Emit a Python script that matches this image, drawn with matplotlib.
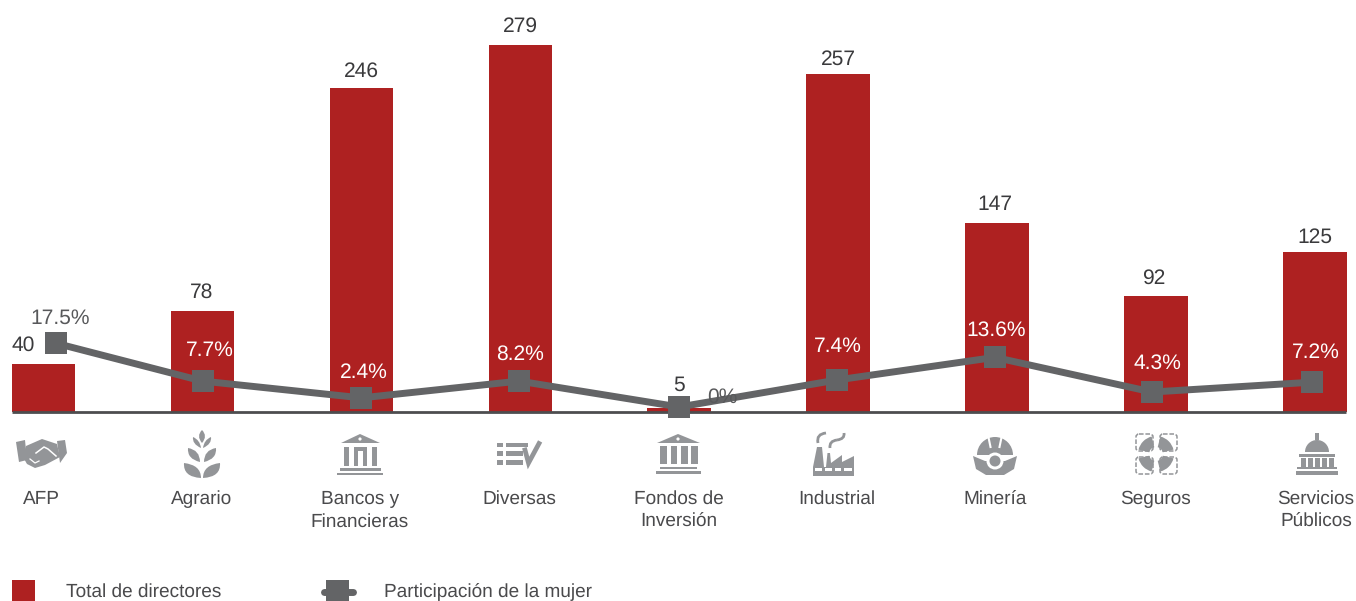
import matplotlib
matplotlib.use('Agg')
import matplotlib.pyplot as plt
from matplotlib.patches import Rectangle, Polygon, Circle, Wedge, PathPatch, FancyBboxPatch
from matplotlib.path import Path

plt.rcParams['font.family'] = ['Liberation Sans', 'DejaVu Sans']
plt.rcParams['text.hinting'] = 'none'
plt.rcParams['text.hinting_factor'] = 1

categories = ['AFP', 'Agrario', 'Bancos y\nFinancieras', 'Diversas', 'Fondos de\nInversión',
              'Industrial', 'Minería', 'Seguros', 'Servicios\nPúblicos']
total_labels = ['40', '78', '246', '279', '5', '257', '147', '92', '125']
pct_labels = ['17.5%', '7.7%', '2.4%', '8.2%', '0%', '7.4%', '13.6%', '4.3%', '7.2%']
# the bars in the picture are not quite to scale, heights are as read off it
bar_heights = [36.5, 77, 246, 279, 3, 257, 143.6, 88, 121.6]
line_heights = [17.5, 7.1, 2.5, 7.1, 0, 7.4, 13.6, 4.1, 6.8]
line_shift = [0.075, 0, 0, -0.008, 0, -0.007, -0.013, -0.025, -0.018]

total_xy = [(23, 345), (202, 292), (361, 71), (520, 26), (679, 385), (838, 59), (995, 205), (1154, 278), (1315, 237)]
pct_xy = [(60, 318), (210, 350), (364, 372), (520, 354), (722, 397), (838, 346), (996, 330), (1157, 363), (1316, 352)]
pct_colors = ['#58595b', 'white', 'white', 'white', '#58595b', 'white', 'white', 'white', 'white']
cat_x = [41, 202, 360, 519, 679, 837, 995, 1156, 1316]
cat_y = [490, 490, 490, 490, 490, 490, 491, 490, 490]

RED = '#ae2121'
LINE = '#636466'
ICON = '#939598'
TEXT = '#4a4a4c'

fig = plt.figure(figsize=(13.56, 6.01), dpi=100)
ax = fig.add_axes([0, 0, 1, 1])
x = list(range(len(categories)))
step = 158.9
ax.set_xlim(-43.6 / step, (1356 - 43.6) / step)
ax.set_ylim(-(601 - 412) / 1.316, 412 / 1.316)
ax.axis('off')
ax.bar(x, bar_heights, width=0.4, color=RED, zorder=2, label='Total de directores')
ax.hlines(0, (12 - 43.6) / step, (1346 - 43.6) / step, color='#4d4d4f', lw=2, zorder=3)

# second scale for the line, zero sits a little above the baseline
ax2 = ax.twinx()
ax2.set_ylim(-(601 - 407) / 3.65, 407 / 3.65)
ax2.axis('off')
line_x = [a + b for a, b in zip(x, line_shift)]
ax2.plot(line_x, line_heights, color=LINE, lw=5, marker='s', ms=15.2, mew=0, zorder=4)

# pixel overlay for text, icons and legend
pix = fig.add_axes([0, 0, 1, 1])
pix.set_xlim(0, 1356)
pix.set_ylim(601, 0)
pix.axis('off')
pix.patch.set_alpha(0)

for (tx, ty), s in zip(total_xy, total_labels):
    pix.text(tx, ty, s, ha='center', va='center', fontsize=15, color='#3a3a3c', zorder=6)
for (tx, ty), s, c in zip(pct_xy, pct_labels, pct_colors):
    pix.text(tx, ty, s, ha='center', va='center', fontsize=15, color=c, zorder=6)
for cx, cy, s in zip(cat_x, cat_y, categories):
    pix.text(cx, cy, s, ha='center', va='top', fontsize=13.4, color=TEXT, linespacing=1.42)


def rect(x0, y0, x1, y1, c=ICON):
    pix.add_patch(Rectangle((x0, y0), x1 - x0, y1 - y0, color=c, lw=0))


def poly(pts, c=ICON):
    pix.add_patch(Polygon(pts, closed=True, color=c, lw=0))


def leaf(p0, p1, c0, c1):
    path = Path([p0, c0, p1, c1, p0], [Path.MOVETO, Path.CURVE3, Path.CURVE3, Path.CURVE3, Path.CURVE3])
    pix.add_patch(PathPatch(path, color=ICON, lw=0))


def curl(p0, c0, p1, lw=2):
    path = Path([p0, c0, p1], [Path.MOVETO, Path.CURVE3, Path.CURVE3])
    pix.add_patch(PathPatch(path, fc='none', ec=ICON, lw=lw))


# handshake
poly([(16, 442), (25, 440), (27, 460), (19, 462)])
poly([(57, 441), (65, 440), (67, 453), (60, 463)])
poly([(26, 446), (42, 439), (57, 444), (60, 457), (45, 465), (35, 468), (27, 464), (23, 457)])
pix.plot([36, 44, 48, 56], [453, 447, 449, 456], color='white', lw=1.1)
pix.plot([30, 35, 39], [459, 463, 461], color='white', lw=0.9)

# wheat
leaf((202, 430), (202, 443), (208, 436), (196, 436))
for m in (1, -1):
    leaf((202 - m * 9, 437), (202 - m * 1, 448), (202 - m * 10, 444), (202 - m * 2, 440))
    leaf((202 - m * 14, 448), (202 - m * 2, 462), (202 - m * 15, 459), (202 - m * 2, 450))
    leaf((202 - m * 18, 463), (202 - m * 1, 478), (202 - m * 19, 477), (202 - m * 1, 465))

# bank
poly([(341, 443), (360, 434), (380, 443)])
pix.add_patch(Circle((360, 439), 1.6, color='white', lw=0))
rect(344, 447, 349, 466)
rect(372, 447, 377, 466)
rect(354, 447, 367, 451)
rect(354, 451, 358, 466)
rect(363, 451, 367, 466)
rect(340, 468, 381, 471)
rect(337, 473, 383, 474.5)

# list with a check
for y0, y1, x1 in [(443, 447, 528), (451, 456, 523), (460, 465, 523)]:
    rect(497, y0, 503, y1)
    rect(506, y0, x1, y1)
pix.plot([525, 528.5, 539], [450, 463, 443.5], color=ICON, lw=3.4, solid_joinstyle='miter')

# fund, same temple with four columns
poly([(657, 443), (678, 434), (700, 443)])
pix.add_patch(Circle((678, 439), 1.6, color='white', lw=0))
for c0 in (660, 670.5, 681, 691):
    rect(c0, 446, c0 + 6.5, 464)
rect(660, 467, 697, 469)
rect(656, 471, 701, 473.5)

# factory
poly([(813, 467), (817, 447), (822, 447), (824, 467)])
poly([(826, 467), (827.5, 453), (830, 453), (831, 463), (842, 455), (842, 462), (854, 456), (854, 467)])
rect(813, 467, 854, 476)
for w0, w1 in [(815, 822), (825, 832), (835, 841), (844, 852)]:
    rect(w0, 468, w1, 471, 'white')
curl((818, 443), (816, 434), (826, 433))
curl((830, 448), (829, 441), (837, 440))
curl((837, 440), (845, 439), (844, 433))

# mining helmet
pix.add_patch(Wedge((995, 455), 18, 180, 360, color=ICON, lw=0))
pix.plot([988, 990.5], [435, 447], color='white', lw=1.5)
pix.plot([1002, 999.5], [435, 447], color='white', lw=1.5)
poly([(973, 456), (985, 461), (1005, 461), (1017, 456), (1014, 469), (1004, 475), (986, 475), (976, 469)])
pix.add_patch(Circle((995, 461), 8.5, color='white', lw=0))
pix.add_patch(Circle((995, 461), 5.5, color=ICON, lw=0))

# insurance
for x0, y0 in [(1136, 434), (1160, 434), (1136, 457), (1160, 457)]:
    pix.add_patch(FancyBboxPatch((x0 + 2, y0 + 2), 13, 13, boxstyle='round,pad=2,rounding_size=3',
                                 fc='none', ec=ICON, lw=1.1, ls=(0, (3, 1.2))))
for t0 in (0, 90, 180, 270):
    pix.add_patch(Wedge((1156, 454), 18, t0 + 14, t0 + 76, width=11, color=ICON, lw=0))

# capitol
rect(1315, 433, 1319, 440)
pix.add_patch(Wedge((1317, 452), 12, 180, 360, color=ICON, lw=0))
rect(1299, 454, 1335, 457)
for c0 in (1301, 1308, 1315, 1322, 1329):
    rect(c0, 458, c0 + 5, 467)
rect(1297, 467, 1337, 469)
rect(1296, 471, 1338, 474.5)

# legend
rect(12, 580, 35, 601, RED)
pix.text(66, 592, 'Total de directores', va='center', fontsize=13.4, color=TEXT)
pix.plot([324, 353], [592, 592], color=LINE, lw=5, solid_capstyle='round')
rect(326, 580, 349, 601, LINE)
pix.text(384, 592, 'Participación de la mujer', va='center', fontsize=13.4, color=TEXT)

fig.savefig('out.png', dpi=100)
